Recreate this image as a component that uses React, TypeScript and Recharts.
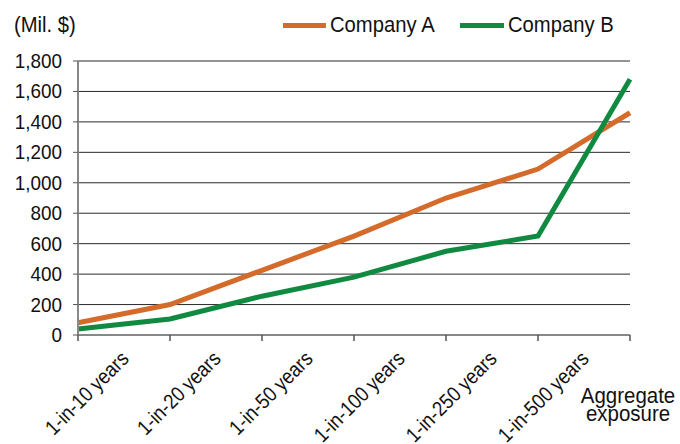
import { LineChart, Line, XAxis, YAxis, CartesianGrid } from "recharts"

const categories = [
  "1-in-10 years",
  "1-in-20 years",
  "1-in-50 years",
  "1-in-100 years",
  "1-in-250 years",
  "1-in-500 years",
  "Aggregate exposure",
]
const companyA = [80, 200, 425, 650, 900, 1090, 1460]
const companyB = [40, 105, 255, 380, 550, 650, 1680]
const yTicks = [0, 200, 400, 600, 800, 1000, 1200, 1400, 1600, 1800]

const data = categories.map((cat, i) => ({ cat, a: companyA[i], b: companyB[i] }))

const FONT = "'Liberation Sans', Arial, sans-serif"
const ORANGE = "#D46B2A"
const GREEN = "#0F8A40"

// no condensed font installed, so squeeze Liberation Sans horizontally
const XTick = (props: any) => {
  const { x, y, payload } = props
  const label: string = payload.value
  if (label === "Aggregate exposure") {
    return (
      <g transform={`translate(${x - 2},${y}) scale(0.93,1)`}>
        <text x={0} y={62} textAnchor="middle" fontFamily={FONT} fontSize={22} fill="#111">Aggregate</text>
        <text x={0} y={80} textAnchor="middle" fontFamily={FONT} fontSize={22} fill="#111">exposure</text>
      </g>
    )
  }
  const ax = x + 52
  const ay = y + 19
  return (
    <text
      x={0}
      y={0}
      textAnchor="end"
      transform={`translate(${ax},${ay}) rotate(-45) scale(0.88,1)`}
      fontFamily={FONT}
      fontSize={21}
      fill="#111"
    >
      {label}
    </text>
  )
}

const YTick = (props: any) => {
  const { x, y, payload } = props
  return (
    <text
      x={0}
      y={0}
      dy={7}
      textAnchor="end"
      transform={`translate(${x},${y}) scale(0.9,1)`}
      fontFamily={FONT}
      fontSize={21}
      fill="#111"
    >
      {payload.value.toLocaleString("en-US")}
    </text>
  )
}

const squeezed = { display: "inline-block", transform: "scaleX(0.92)", transformOrigin: "left center" } as const

export default function App() {
  return (
    <div style={{ position: "absolute", left: 0, top: 0, width: 680, height: 444, background: "#fff" }}>
      <div style={{ position: "absolute", left: 14, top: 12, fontFamily: FONT, fontSize: 22, color: "#111", lineHeight: "26px" }}>
        <span style={squeezed}>(Mil. $)</span>
      </div>
      <div style={{ position: "absolute", left: 283, top: 12, height: 26, display: "flex", alignItems: "center", fontFamily: FONT, fontSize: 22, color: "#111" }}>
        <span style={{ width: 43, height: 5, background: ORANGE }} />
        <span style={{ ...squeezed, width: 130, marginLeft: 4, whiteSpace: "nowrap" }}>Company A</span>
        <span style={{ width: 44, height: 5, background: GREEN }} />
        <span style={{ ...squeezed, marginLeft: 4, whiteSpace: "nowrap" }}>Company B</span>
      </div>
      <LineChart width={680} height={444} data={data} margin={{ top: 61, right: 50, bottom: 9, left: 18 }}>
        <CartesianGrid vertical={false} stroke="#2a2a2a" strokeWidth={1} />
        <XAxis
          dataKey="cat"
          interval={0}
          height={100}
          tick={<XTick />}
          tickSize={6}
          tickMargin={0}
          axisLine={{ stroke: "#888", strokeWidth: 2 }}
          tickLine={{ stroke: "#555", strokeWidth: 1.5 }}
        />
        <YAxis
          width={60}
          domain={[0, 1800]}
          ticks={yTicks}
          interval={0}
          tickSize={5}
          tickMargin={11}
          tick={<YTick />}
          axisLine={{ stroke: "#888", strokeWidth: 2 }}
          tickLine={{ stroke: "#555" }}
        />
        <Line dataKey="a" name="Company A" stroke={ORANGE} strokeWidth={5} dot={false} isAnimationActive={false} />
        <Line dataKey="b" name="Company B" stroke={GREEN} strokeWidth={5} dot={false} isAnimationActive={false} />
      </LineChart>
    </div>
  )
}
